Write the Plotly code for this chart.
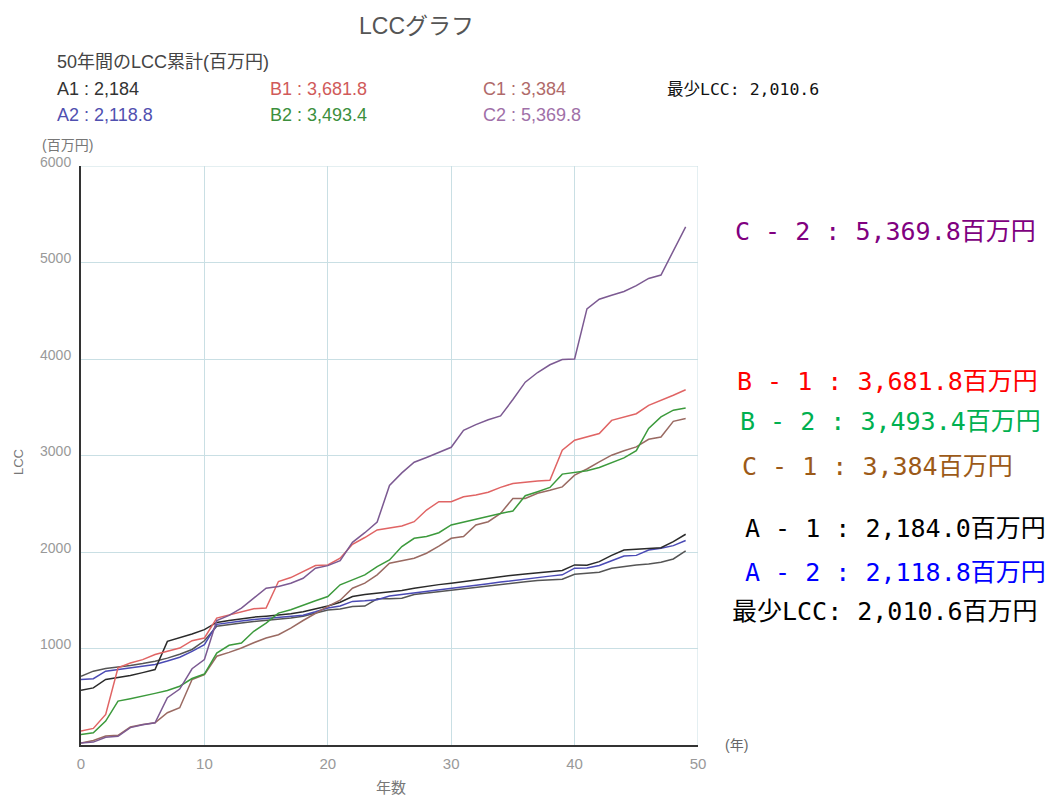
import plotly.graph_objects as go

# --- data (百万円, cumulative LCC by year) ---
years = list(range(50))
y_ticks = [1000, 2000, 3000, 4000, 5000, 6000]

a1 = [568, 592, 679, 696, 720, 750, 782, 1074, 1110, 1150,
      1195, 1270, 1290, 1310, 1325, 1335, 1345, 1360, 1380, 1410,
      1440, 1480, 1539, 1560, 1575, 1585, 1600, 1625, 1645, 1662,
      1677, 1695, 1712, 1730, 1745, 1760, 1772, 1785, 1797, 1808,
      1866, 1862, 1900, 1965, 2021, 2031, 2038, 2045, 2107, 2184.0]

a2 = [679, 687, 765, 782, 800, 818, 835, 870, 910, 970,
      1040, 1250, 1270, 1285, 1300, 1310, 1320, 1330, 1345, 1380,
      1420, 1440, 1488, 1495, 1505, 1545, 1560, 1575, 1590, 1607,
      1625, 1640, 1655, 1670, 1688, 1705, 1720, 1735, 1750, 1763,
      1832, 1835, 1860, 1910, 1959, 1965, 2021, 2038, 2066, 2118.8]

lcc_min = [713, 765, 792, 806, 825, 845, 868, 900, 940, 990,
           1080, 1230, 1250, 1265, 1280, 1290, 1300, 1315, 1335, 1365,
           1400, 1410, 1436, 1440, 1515, 1515, 1520, 1560, 1575, 1590,
           1608, 1622, 1636, 1650, 1664, 1678, 1692, 1705, 1712, 1718,
           1770, 1780, 1790, 1832, 1850, 1866, 1876, 1893, 1928, 2010.6]

b1 = [145, 172, 317, 799, 850, 885, 937, 971, 1005, 1081,
      1109, 1315, 1350, 1384, 1412, 1419, 1694, 1735, 1797, 1859,
      1866, 1935, 2080, 2150, 2229, 2250, 2270, 2314, 2435, 2521,
      2521, 2572, 2590, 2620, 2670, 2710, 2725, 2735, 2744, 3054,
      3158, 3190, 3227, 3364, 3400, 3433, 3520, 3570, 3625, 3681.8]

b2 = [110, 127, 248, 455, 480, 505, 535, 565, 609, 689,
      735, 953, 1033, 1057, 1178, 1263, 1367, 1401, 1450, 1495,
      1539, 1660, 1711, 1763, 1849, 1918, 2056, 2142, 2160, 2200,
      2280, 2310, 2345, 2376, 2400, 2425, 2583, 2625, 2669, 2807,
      2824, 2841, 2876, 2927, 2975, 3050, 3280, 3400, 3470, 3493.4]

c1 = [20, 46, 93, 100, 186, 213, 231, 334, 386, 679,
      730, 920, 960, 1005, 1060, 1109, 1143, 1212, 1290, 1367,
      1436, 1500, 1625, 1677, 1763, 1884, 1910, 1935, 1987, 2060,
      2142, 2160, 2280, 2314, 2400, 2555, 2555, 2609, 2640, 2675,
      2796, 2860, 2934, 3003, 3050, 3089, 3168, 3191, 3354, 3384.0]

c2 = [20, 30, 80, 90, 180, 210, 230, 490, 580, 790,
      885, 1290, 1343, 1419, 1522, 1625, 1642, 1677, 1728, 1832,
      1859, 1910, 2100, 2200, 2310, 2690, 2820, 2930, 2980, 3030,
      3085, 3260, 3320, 3370, 3410, 3580, 3760, 3860, 3940, 3995,
      4000, 4520, 4620, 4660, 4700, 4760, 4835, 4870, 5120, 5369.8]

series = [
    ("最少LCC", lcc_min, "#555555"),
    ("A2", a2, "#4a4ab4"),
    ("A1", a1, "#2a2a2a"),
    ("C1", c1, "#9a6a62"),
    ("B2", b2, "#3c9a3c"),
    ("B1", b1, "#e06464"),
    ("C2", c2, "#7c5a92"),
]

W, H = 1056, 796
L, R, T, B = 81, 698, 166, 745


def px(x):
    return (x - L) / (R - L)


def py(y):
    return (B - y) / (B - T)


fig = go.Figure()
for name, vals, col in series:
    fig.add_trace(go.Scatter(x=years, y=vals, mode="lines", name=name,
                             line=dict(color=col, width=1.5),
                             showlegend=False))

base_font = "Liberation Sans, Noto Sans CJK JP, sans-serif"
mono_font = "DejaVu Sans Mono, Noto Sans CJK JP, monospace"

ann = []


def text(s, x, y, size, color, anchor="left", family=base_font, angle=0):
    ann.append(dict(text=s, x=px(x), y=py(y), xref="paper", yref="paper",
                    xanchor=anchor, yanchor="middle", showarrow=False,
                    textangle=angle,
                    font=dict(size=size, color=color, family=family)))


# header
text("LCCグラフ", 416, 26, 23, "#555555", anchor="center")
text("50年間のLCC累計(百万円)", 55, 62, 18, "#444444")
text("A1 : 2,184", 55, 89, 18, "#333333")
text("B1 : 3,681.8", 268, 89, 18, "#d05a5a")
text("C1 : 3,384", 481, 89, 18, "#b06a6a")
text("最少LCC: 2,010.6", 665, 89, 16.5, "#111111", family=mono_font)
text("A2 : 2,118.8", 55, 115, 18, "#5050b0")
text("B2 : 3,493.4", 268, 115, 18, "#3c8f3c")
text("C2 : 5,369.8", 481, 115, 18, "#a070a8")

# axis captions
text("(百万円)", 40, 145, 14, "#777777")
text("(年)", 723, 745, 14, "#666666")
text("年数", 391, 787, 15, "#777777", anchor="center")
text("LCC", 18, 462, 13, "#777777", anchor="center", angle=-90)

# totals on the right
text("C - 2 : 5,369.8百万円", 733, 232, 25, "#800080", family=mono_font)
text("B - 1 : 3,681.8百万円", 735, 381, 25, "#ff0000", family=mono_font)
text("B - 2 : 3,493.4百万円", 738, 421, 25, "#00b050", family=mono_font)
text("C - 1 : 3,384百万円", 740, 466, 25, "#9c5a18", family=mono_font)
text("A - 1 : 2,184.0百万円", 743, 528, 25, "#000000", family=mono_font)
text("A - 2 : 2,118.8百万円", 743, 572, 25, "#0000ff", family=mono_font)
text("最少LCC: 2,010.6百万円", 730, 611, 25, "#000000", family=mono_font)

fig.update_layout(
    width=W, height=H,
    margin=dict(l=L, r=W - R, t=T, b=H - B),
    paper_bgcolor="white", plot_bgcolor="white",
    font=dict(family=base_font, color="#888888"),
    annotations=ann,
)

fig.update_xaxes(range=[0, 50], dtick=10, showgrid=True, gridcolor="#c9dfe4",
                 gridwidth=1, showline=True, linecolor="#333333", linewidth=2,
                 zeroline=False, tickfont=dict(size=15, color="#999999"),
                 ticks="", ticklabelstandoff=4, mirror=False)
fig.update_yaxes(range=[0, 6000], tickmode="array", tickvals=y_ticks,
                 showgrid=True, gridcolor="#c9dfe4",
                 gridwidth=1, showline=True, linecolor="#333333", linewidth=2,
                 zeroline=False, tickfont=dict(size=14, color="#999999"),
                 ticks="", ticklabelstandoff=5, ticklabelshift=-4,
                 tickformat="d")

# right and top frame lines drawn as grid edges
fig.add_shape(type="line", xref="x", yref="y", x0=50, x1=50, y0=0, y1=6000,
              line=dict(color="#c9dfe4", width=1), layer="below")
fig.add_shape(type="line", xref="x", yref="y", x0=0, x1=50, y0=6000, y1=6000,
              line=dict(color="#c9dfe4", width=1), layer="below")

fig.write_html("out.html")
